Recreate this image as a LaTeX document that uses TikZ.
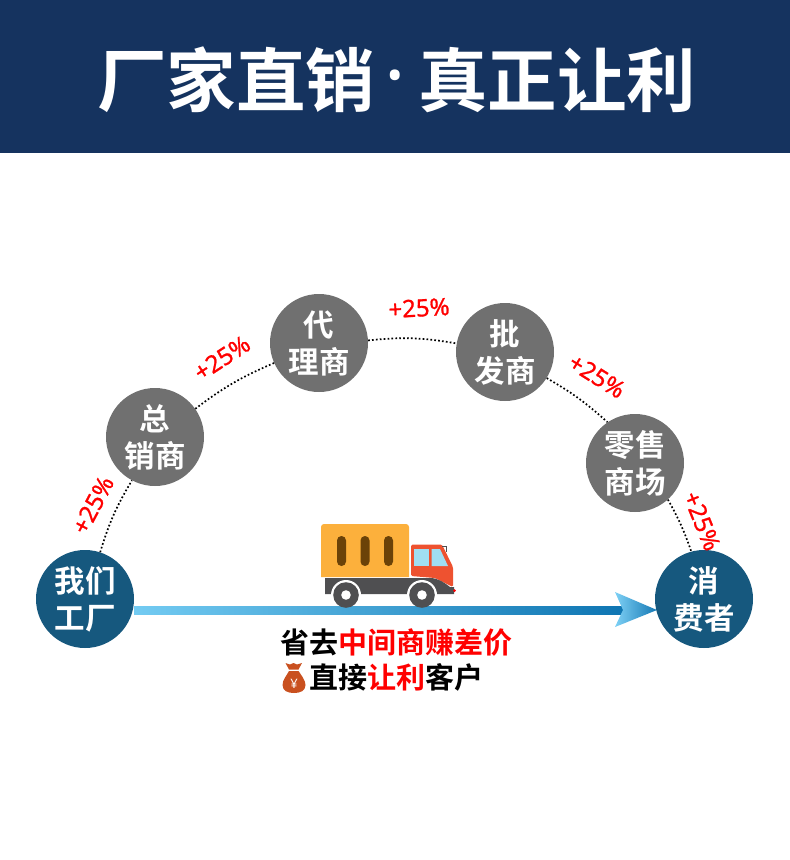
\documentclass[tikz,border=0pt]{standalone}
\usepackage{fontspec}
\setmainfont{Noto Sans CJK SC}[BoldFont={Noto Sans CJK SC Bold}]
\newfontfamily\latinf{Noto Sans}[RawFeature={embolden=0.9}]
\newfontfamily\latinb{Noto Sans}
\usetikzlibrary{shadings}
\definecolor{navy}{HTML}{15335F}
\definecolor{teal}{HTML}{16587E}
\definecolor{greyc}{HTML}{707070}
\definecolor{orangebox}{HTML}{FCB03C}
\definecolor{slot}{HTML}{6B4208}
\definecolor{cabred}{HTML}{EE5230}
\definecolor{glass}{HTML}{A0DEF2}
\definecolor{chassis}{HTML}{4F4F51}
\definecolor{bag}{HTML}{C9501F}
\tikzset{
  x=1pt,y=-1pt,
  circ/.style={circle,minimum size=98pt,inner sep=0pt,text=white,align=center,font=\fontsize{30.5}{37}\selectfont\bfseries},
  tealc/.style={circ,fill=teal},
  greyn/.style={circ,fill=greyc},
  link/.style={line width=1.7pt,black,dash pattern=on 1.7pt off 2.2pt},
  pct/.style={text=red,inner sep=0pt,font=\fontsize{24}{24}\selectfont\latinf},
  cap1/.style={inner sep=0pt,anchor=west,font=\fontsize{29}{30}\selectfont\bfseries},
  ttl/.style={inner sep=0pt,text=white,font=\fontsize{69.5}{72}\selectfont\bfseries}
}
\begin{document}
\begin{tikzpicture}
\useasboundingbox (0,0) rectangle (790,860);
\fill[navy] (0,0) rectangle (790,153);
\node[ttl,anchor=west] (t1) at (97,80) {厂家直销};
\node[inner sep=0pt,text=white,anchor=base,font=\fontsize{80}{80}\selectfont\bfseries\latinb] (t0) at (395,103) {·};
\node[ttl,anchor=west] (t2) at (418,80) {真正让利};

\node[tealc] (a) at (85,599) {我们\\工厂};
\node[greyn] (b) at (155,437) {总\\销商};
\node[greyn] (c) at (319,343) {代\\理商};
\node[greyn] (d) at (505,352) {批\\发商};
\node[greyn] (e) at (635,463) {零售\\商场};
\node[tealc] (f) at (704,599) {消\\费者};

\draw[link] (a.72) to[bend left=7] (b.242);
\draw[link] (b.35) to[bend left=7] (c.204);
\draw[link] (c.3) to[bend left=8] (d.170);
\draw[link] (d.-32) to[bend left=6] (e.124);
\draw[link] (e.-48) to[bend left=5] (f.105);

\node[pct,rotate=62] (p1) at (93,505) {+25\%};
\node[pct,rotate=33] (p2) at (222,358) {+25\%};
\node[pct,rotate=3] (p3) at (419,308) {+25\%};
\node[pct,rotate=-32] (p4) at (597,376) {+25\%};
\node[pct,rotate=-68] (p5) at (702,521) {+25\%};

% arrow
\shade[left color={rgb,255:red,115;green,203;blue,242},right color={rgb,255:red,14;green,117;blue,178}] (134,606) rectangle (624,614);
\shade[left color={rgb,255:red,125;green,208;blue,245},right color={rgb,255:red,20;green,120;blue,180}] (615,592) -- (657,610) -- (615,627) -- (623,610) -- cycle;

% truck
\fill[orangebox] (321,577) -- (321,527) arc[start angle=180,end angle=270,radius=3] -- (406,524) arc[start angle=270,end angle=360,radius=3] -- (409,577) -- cycle;
\foreach \x in {341.5,365,388.5}{
  \fill[slot,rounded corners=4.4pt] (\x-4.5,536) rectangle (\x+4.5,566);
}
\fill[cabred,rounded corners=1.5pt] (411,544.5) -- (442,544.5) -- (453,567) -- (453,587) -- (435,578) -- (411,576) -- cycle;
\fill[glass] (414,549) -- (429,549) -- (429,566) -- (414,566) -- cycle;
\fill[glass] (431.5,549) -- (440,549) -- (448,566) -- (431.5,566) -- cycle;
\draw[chassis,line width=0.8pt] (442,546) -- (446,546) -- (446,552);
\fill[chassis] (325,578) -- (430,578) .. controls (438,578) and (445,583) .. (450,587) -- (454,587) -- (454,594) -- (325,594) -- cycle;
\fill[red] (454.5,590.5) circle[radius=1.5];
\foreach \x in {346,422}{
  \begin{scope}
    \clip (\x-20,575) rectangle (\x+20,594);
    \fill[white] (\x,595) circle[radius=15];
  \end{scope}
  \fill[chassis] (\x,595) circle[radius=12.8];
  \fill[white] (\x,595) circle[radius=4.8];
}

% captions
\node[cap1] (l1) at (280,643) {省去\textcolor{red}{中间商赚差价}};
\node[cap1] (l2) at (309,677) {直接\textcolor{red}{让利}客户};

% money bag
\fill[bag] (285.5,663) -- (290,664.5) -- (293.5,663) -- (297,664.5) -- (302,663) -- (298.5,669.5) -- (289,669.5) -- cycle;
\fill[bag] (289,671) -- (298.5,671) .. controls (301,675) and (305.5,680) .. (305.5,685) .. controls (305.5,691) and (300,693) .. (294,693) .. controls (288,693) and (282.5,691) .. (282.5,685) .. controls (282.5,680) and (287,675) .. (289,671) -- cycle;
\node[inner sep=0pt,text=white,font=\fontsize{13}{13}\selectfont\bfseries\latinb] (yen) at (294,683.5) {¥};
\end{tikzpicture}
\end{document}
